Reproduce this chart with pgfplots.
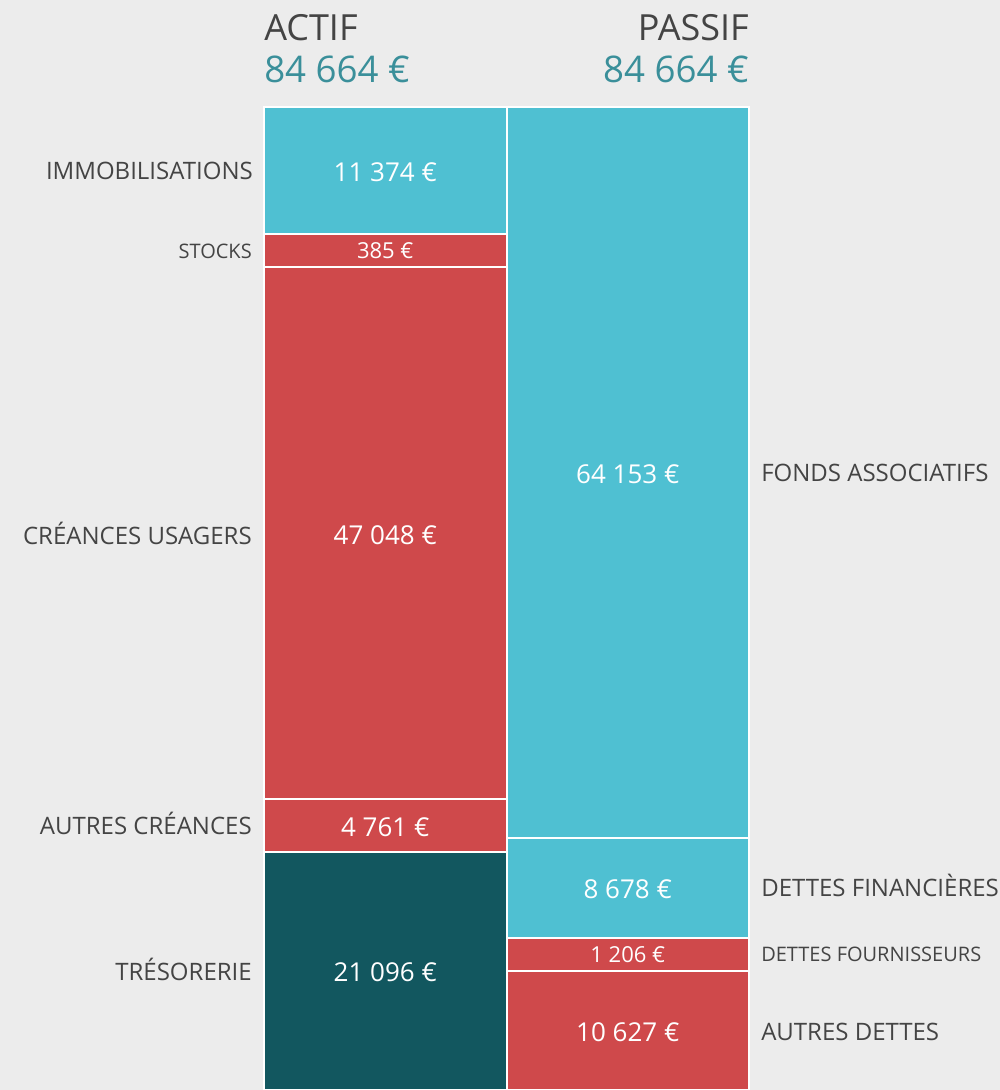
\documentclass[border=0pt]{standalone}
\usepackage{fontspec}
\setmainfont{Open Sans}
\usepackage{pgfplots}
\pgfplotsset{compat=1.18}
\definecolor{bg}{HTML}{ECECEC}
\definecolor{lteal}{HTML}{4FC0D2}
\definecolor{bred}{HTML}{CF494B}
\definecolor{dteal}{HTML}{12575F}
\definecolor{numteal}{HTML}{3A8F9A}
\definecolor{txt}{HTML}{444444}
\begin{document}
\begin{tikzpicture}[x=0.75pt,y=0.75pt,
  cat/.style={font=\fontsize{18}{20}\selectfont, text=txt, inner sep=0pt, text height=12.9pt, text depth=0pt},
  catsm/.style={font=\fontsize{15}{17}\selectfont, text=txt, inner sep=0pt, text height=10.7pt, text depth=0pt},
  val/.style={font=\fontsize{19.5}{21}\selectfont, text=white, inner sep=0pt, text height=13.9pt, text depth=0pt, yshift=-1.2pt},
  valsm/.style={font=\fontsize{16.5}{18}\selectfont, text=white, inner sep=0pt, text height=11.8pt, text depth=0pt}]
\path[use as bounding box, fill=bg] (0,0) rectangle (1000,1090);
% Segment heights as drawn in the original (smallest segments are given a minimum height);
% labels carry the true amounts.
\pgfplotsset{bs/.style={
  at={(198pt,0pt)}, anchor=south west, scale only axis,
  width=363.75pt, height=737.25pt,
  xmin=0, xmax=2, ymin=0, ymax=84664,
  axis lines=none, clip=false, ybar stacked, bar width=1,
  every axis plot/.append style={draw=white, line width=1.5pt}}}
\begin{axis}[bs]
\addplot[fill=dteal] coordinates {(0.5,20499)};
\addplot[fill=bred] coordinates {(0.5,4565)};
\addplot[fill=bred] coordinates {(0.5,45778)};
\addplot[fill=bred] coordinates {(0.5,2842)};
\addplot[fill=lteal] coordinates {(0.5,10980)};
\node[cat, anchor=east, xshift=-8.25pt] at (axis cs:0,79174) {IMMOBILISATIONS};
\node[catsm, anchor=east, xshift=-9pt] at (axis cs:0,72263) {STOCKS};
\node[cat, anchor=east, xshift=-9pt] at (axis cs:0,47700) {CRÉANCES USAGERS};
\node[cat, anchor=east, xshift=-9pt] at (axis cs:0,22782) {AUTRES CRÉANCES};
\node[cat, anchor=east, xshift=-9pt] at (axis cs:0,10150) {TRÉSORERIE};
\end{axis}
\begin{axis}[bs]
\addplot[fill=bred] coordinates {(1.5,10292)};
\addplot[fill=bred] coordinates {(1.5,2800)};
\addplot[fill=lteal] coordinates {(1.5,8613)};
\addplot[fill=lteal] coordinates {(1.5,62959)};
\node[cat, anchor=west, xshift=9pt] at (axis cs:2,53185) {FONDS ASSOCIATIFS};
\node[cat, anchor=west, xshift=9pt] at (axis cs:2,17399) {DETTES FINANCIÈRES};
\node[catsm, anchor=west, xshift=9pt] at (axis cs:2,11692) {DETTES FOURNISSEURS};
\node[cat, anchor=west, xshift=9pt] at (axis cs:2,5000) {AUTRES DETTES};
\end{axis}
% value labels, drawn over both stacks
\begin{axis}[bs]
\node[val] at (axis cs:0.5,79174) {11 374 €};
\node[valsm] at (axis cs:0.5,72263) {385 €};
\node[val] at (axis cs:0.5,47953) {47 048 €};
\node[val] at (axis cs:0.5,22782) {4 761 €};
\node[val] at (axis cs:0.5,10250) {21 096 €};
\node[val] at (axis cs:1.5,53185) {64 153 €};
\node[val] at (axis cs:1.5,17399) {8 678 €};
\node[valsm] at (axis cs:1.5,11692) {1 206 €};
\node[val] at (axis cs:1.5,5146) {10 627 €};
\end{axis}
\node[anchor=base west, inner sep=0pt, font=\fontsize{27}{30}\selectfont, text=txt] at (264,1049) {ACTIF};
\node[anchor=base west, inner sep=0pt, font=\fontsize{27.5}{30}\selectfont, text=numteal] at (264,1007) {84 664 €};
\node[anchor=base east, inner sep=0pt, font=\fontsize{27}{30}\selectfont, text=txt] at (749,1049) {PASSIF};
\node[anchor=base east, inner sep=0pt, font=\fontsize{27.5}{30}\selectfont, text=numteal] at (749,1007) {84 664 €};
\end{tikzpicture}
\end{document}
